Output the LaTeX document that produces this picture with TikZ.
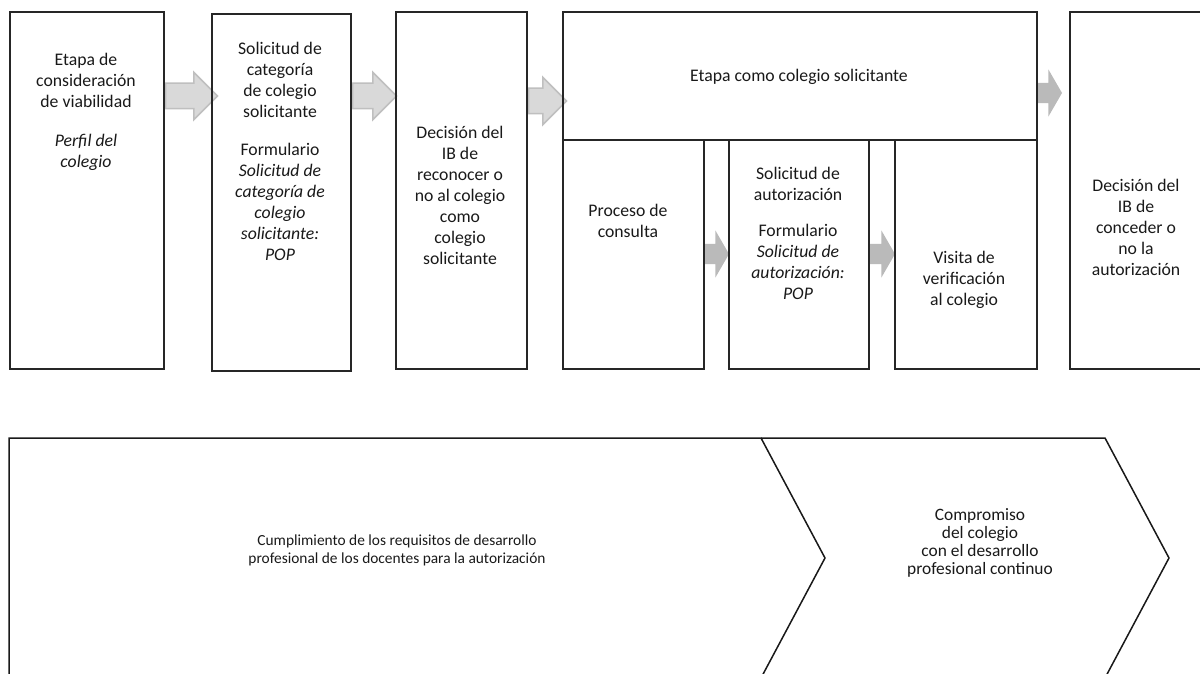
\documentclass[tikz,border=0pt]{standalone}
\usepackage{fontspec}
\setmainfont{Carlito}
\usetikzlibrary{shapes.arrows,backgrounds}

\begin{document}
\begin{tikzpicture}[x=1pt,y=-1pt,
  box/.style={draw=black!85,line width=1.8pt,inner sep=0pt,anchor=north west},
  txt/.style={align=center,inner sep=0pt,text=black!90,font=\fontsize{17.7}{21}\selectfont},
  smalltxt/.style={align=center,inner sep=0pt,text=black!90,font=\fontsize{15.4}{18}\selectfont},
  lightarrow/.style={single arrow,draw=black!25,fill=black!15,line width=1.5pt,inner xsep=0pt,
    inner ysep=12pt,single arrow head extend=11pt,anchor=tail},
  darkarrow/.style={single arrow,fill=black!27,inner xsep=0pt,inner ysep=10pt,
    single arrow head extend=13.5pt,single arrow tip angle=120,anchor=tail},
  chevron/.style={draw=black!90,line width=1.5pt,line join=miter}]
\useasboundingbox (0,0) rectangle (1200,674);

\node[box,minimum width=154pt,minimum height=357pt] (perfil) at (9,11) {};
\node[box,minimum width=139pt,minimum height=357pt] (solcat) at (211,13) {};
\node[box,minimum width=131pt,minimum height=357pt] (decision) at (395,11) {};
\node[box,minimum width=474pt,minimum height=128pt] (etapa) at (562,11) {};
\node[box,minimum width=141pt,minimum height=229pt] (consulta) at (562,139) {};
\node[box,minimum width=140pt,minimum height=229pt] (solaut) at (728,139) {};
\node[box,minimum width=142pt,minimum height=229pt] (visita) at (894,139) {};
\node[box,minimum width=134pt,minimum height=357pt] (autoriz) at (1069,11) {};

\node[txt] (perfiltxt) at (86,112) {Etapa de\\consideración\\de viabilidad\\[18pt]\textit{Perfil del}\\\textit{colegio}};
\node[txt] (solcattxt) at (280,151) {Solicitud de\\categoría\\de colegio\\solicitante\\[17pt]Formulario\\\textit{Solicitud de}\\\textit{categoría de}\\\textit{colegio}\\\textit{solicitante:}\\\textit{POP}};
\node[txt] (decisiontxt) at (460,195) {Decisión del\\IB de\\reconocer o\\no al colegio\\como\\colegio\\solicitante};
\node[txt] (etapatxt) at (799,77) {Etapa como colegio solicitante};
\node[txt] (consultatxt) at (628,221) {Proceso de\\consulta};
\node[txt] (solauttxt) at (798,233) {Solicitud de\\autorización\\[15pt]Formulario\\\textit{Solicitud de}\\\textit{autorización:}\\\textit{POP}};
\node[txt] (visitatxt) at (964,280) {Visita de\\verificación\\al colegio};
\node[txt] (autoriztxt) at (1136,227) {Decisión del\\IB de\\conceder o\\no la\\autorización};

\begin{scope}[on background layer]
\node[lightarrow,minimum height=52pt] (a1) at (perfil.east |- 0,96) {};
\node[lightarrow,minimum height=44pt] (a2) at (solcat.east |- 0,96) {};
\node[lightarrow,minimum height=38pt] (a3) at (decision.east |- 0,101) {};
\node[darkarrow,minimum height=24pt] (a4) at (etapa.east |- 0,93) {};
\node[darkarrow,minimum height=24pt] (a5) at (consulta.east |- 0,254) {};
\node[darkarrow,minimum height=25pt] (a6) at (solaut.east |- 0,254) {};
\end{scope}

\draw[chevron] (9,690) -- (9,438) -- (761,438) -- (825,558) -- (761,678);
\draw[chevron] (761,438) -- (1105,438) -- (1169,558) -- (1105,678);
\node[smalltxt] (requisitos) at (397,550) {Cumplimiento de los requisitos de desarrollo\\profesional de los docentes para la autorización};
\node[smalltxt,font=\fontsize{17.4}{18}\selectfont] (compromiso) at (980,543) {Compromiso\\del colegio\\con el desarrollo\\profesional continuo};
\end{tikzpicture}
\end{document}
